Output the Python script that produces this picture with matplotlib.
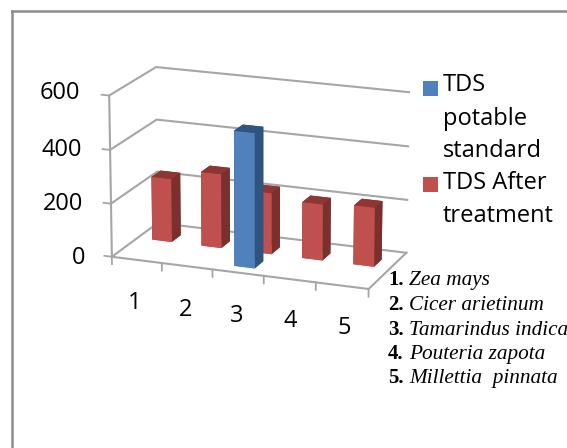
import matplotlib
matplotlib.use("Agg")
import matplotlib.pyplot as plt
from matplotlib.lines import Line2D
from matplotlib.patches import Rectangle

categories = [1, 2, 3, 4, 5]
tds_after = [240, 280, 230, 210, 220]
tds_standard = [0, 0, 500, 0, 0]
y_ticks = [0, 200, 400, 600]
legend_lines = ["TDS", "potable", "standard", "TDS After", "treatment"]
species = ["Zea mays", "Cicer arietinum", "Tamarindus indica", "Pouteria zapota", "Millettia  pinnata"]

GRID = "#a6a6a6"
W, H = 567, 448


def px(x):
    return x / W


def py(y):
    return 1 - y / H


def draw_bars(ax, values, row, front, side, top):
    for c, v in zip(categories, values):
        if v == 0:
            continue
        # order of faces in bar3d: bottom, top, front, back, left, right
        colors = [front, top, front, side, side, side]
        ax.bar3d(c - 0.2, row, 0, 0.4, 0.4, v, color=colors, shade=False, linewidth=0)


fig = plt.figure(figsize=(W / 100, H / 100), dpi=100)
fig.patch.set_facecolor("white")

ax = fig.add_axes([0.057, 0.096, 0.78, 1.0], projection="3d")
ax.set_axis_off()
ax.patch.set_alpha(0)
ax.view_init(elev=17, azim=-69)
ax.set_proj_type("persp", focal_length=1.15)
ax.set_box_aspect((3.0, 1.3, 1.85), zoom=0.75)
ax.set_xlim(0.5, 5.5)
ax.set_ylim(0, 2)
ax.set_zlim(0, 600)

# walls and floor
for v in y_ticks:
    ax.plot([0.5, 0.5, 5.5], [0, 2, 2], [v, v, v], color=GRID, lw=1.5)
ax.plot([0.5, 0.5], [0, 0], [0, 600], color=GRID, lw=1.5)
ax.plot([0.5, 5.5, 5.5], [0, 0, 2], [0, 0, 0], color=GRID, lw=1.5)

# ticks
for v in y_ticks:
    ax.plot([0.5, 0.35], [0, 0], [v, v], color=GRID, lw=1.3)
for c in [0] + categories:
    ax.plot([c + 0.5, c + 0.5], [0, 0], [0, -28], color=GRID, lw=1.3)

draw_bars(ax, tds_after, 1.1, "#c0504d", "#7c302e", "#8f3533")
draw_bars(ax, tds_standard, 0.3, "#4f81bd", "#2f5480", "#2f5480")

# tick labels placed on the figure
for v, x, y in zip(y_ticks, [85, 83, 82, 80], [258, 204, 150, 93]):
    fig.text(px(x), py(y), str(v), ha="right", va="center", fontsize=17, family="Open Sans")
for c, x, y in zip(categories, [135, 186, 237, 290, 344], [303, 310, 316, 321, 328]):
    fig.text(px(x), py(y), str(c), ha="center", va="center", fontsize=17, family="Open Sans")

# legend
fig.add_artist(Rectangle((px(423), py(96)), 15 / W, 15 / H, transform=fig.transFigure, color="#4f81bd", lw=0))
fig.add_artist(Rectangle((px(423), py(192)), 15 / W, 15 / H, transform=fig.transFigure, color="#c0504d", lw=0))
for line, y in zip(legend_lines, [85, 119, 151, 183, 216]):
    fig.text(px(443), py(y), line, fontsize=17, family="Open Sans", va="center", ha="left")

# species list
for i, (name, y) in enumerate(zip(species, [280, 305, 330, 354, 378])):
    fig.text(px(388), py(y), f"{i + 1}.", fontsize=15, family="Liberation Serif", weight="bold", va="center")
    fig.text(px(409), py(y), name, fontsize=15.3, family="Liberation Serif", style="italic", va="center")

# outer frame, only top and left are in the picture
fig.add_artist(Line2D([px(11.5), 1], [py(11), py(11)], color="#8c8c8c", lw=1.8))
fig.add_artist(Line2D([px(11.5), px(11.5)], [py(11), 0], color="#8c8c8c", lw=1.8))

fig.savefig("out.png", dpi=100)
